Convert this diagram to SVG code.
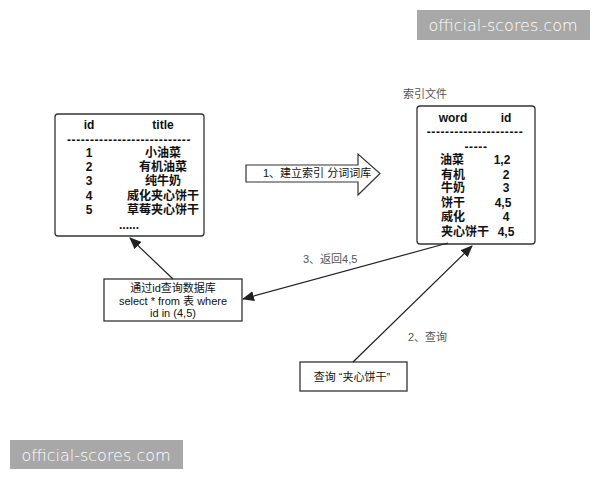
<svg xmlns="http://www.w3.org/2000/svg" width="600" height="480" viewBox="0 0 600 480">
<style>
.box{fill:#fff;stroke:#333;stroke-width:1.3}
.t{font-family:"Liberation Sans","Noto Sans CJK SC",sans-serif;font-size:12px;fill:#111}
.b{font-weight:bold}
.g{fill:#555;font-size:11px}
.n{font-size:11px}
.c{text-anchor:middle}
.d{letter-spacing:0.6px}
.ln{stroke:#222;stroke-width:1.2;fill:none}
.wm{fill:#a8a8a8}
.wt{font-family:"DejaVu Sans",sans-serif;font-size:16px;font-weight:200;fill:#fff}
</style>
<defs>
<marker id="ah" markerWidth="12" markerHeight="10" refX="11" refY="5" orient="auto" markerUnits="userSpaceOnUse">
<path d="M0,0 L12,5 L0,10 Z" fill="#222"/>
</marker>
</defs>
<rect width="600" height="480" fill="#fff"/>
<g id="watermark-top">
<rect class="wm" x="417" y="10" width="173" height="30"/>
<text class="wt" x="503" y="31" text-anchor="middle">official-scores.com</text>
</g>
<g id="watermark-bottom">
<rect class="wm" x="10" y="440" width="173" height="29"/>
<text class="wt" x="96" y="461" text-anchor="middle">official-scores.com</text>
</g>
<g id="db-table">
<rect class="box" x="55" y="114" width="149" height="122" rx="3"/>
<text class="t b c" x="89" y="129">id</text>
<text class="t b c" x="163" y="129">title</text>
<text class="t b c d" x="129" y="144">---------------------------</text>
<text class="t b c" x="89" y="157">1</text><text class="t b c" x="163" y="157">小油菜</text>
<text class="t b c" x="89" y="171">2</text><text class="t b c" x="163" y="171">有机油菜</text>
<text class="t b c" x="89" y="185">3</text><text class="t b c" x="163" y="185">纯牛奶</text>
<text class="t b c" x="89" y="200">4</text><text class="t b c" x="163" y="200">威化夹心饼干</text>
<text class="t b c" x="89" y="214">5</text><text class="t b c" x="163" y="214">草莓夹心饼干</text>
<text class="t b c" x="129" y="229">......</text>
</g>
<g id="index-file">
<text class="t g" x="403" y="98">索引文件</text>
<rect class="box" x="417" y="106" width="118" height="138" rx="3"/>
<text class="t b c" x="453" y="122">word</text>
<text class="t b c" x="506" y="122">id</text>
<text class="t b c d" x="475" y="136">---------------------</text>
<text class="t b c d" x="476" y="151">-----</text>
<text class="t b" x="440" y="164">油菜</text><text class="t b c" x="502" y="164">1,2</text>
<text class="t b" x="441" y="179">有机</text><text class="t b c" x="506" y="179">2</text>
<text class="t b" x="441" y="192">牛奶</text><text class="t b c" x="506" y="192">3</text>
<text class="t b" x="441" y="207">饼干</text><text class="t b c" x="503" y="207">4,5</text>
<text class="t b" x="441" y="221">威化</text><text class="t b c" x="506" y="221">4</text>
<text class="t b" x="441" y="236">夹心饼干</text><text class="t b c" x="506" y="236">4,5</text>
</g>
<g id="build-arrow">
<path d="M246,165 L358,165 L358,154 L380,173.5 L358,195 L358,182 L246,182 Z" fill="#fff" stroke="#333" stroke-width="1.2"/>
<text class="t n" x="263" y="177">1、建立索引 分词词库</text>
</g>
<g id="db-query">
<rect class="box" x="104" y="279" width="138" height="42"/>
<text class="t n c" x="173" y="292">通过id查询数据库</text>
<text class="t n c" x="173" y="305">select * from 表 where</text>
<text class="t n c" x="173" y="317">id in (4,5)</text>
</g>
<g id="search-query">
<rect class="box" x="300" y="362" width="107" height="29"/>
<text class="t n c" x="352" y="381">查询 “夹心饼干”</text>
</g>
<g id="connectors">
<line class="ln" x1="173" y1="279" x2="130" y2="238" marker-end="url(#ah)"/>
<line class="ln" x1="448" y1="243" x2="243" y2="299" marker-end="url(#ah)"/>
<line class="ln" x1="353" y1="362" x2="472" y2="246" marker-end="url(#ah)"/>
<text class="t g" x="303" y="263">3、返回4,5</text>
<text class="t g" x="408" y="341">2、查询</text>
</g>
</svg>
